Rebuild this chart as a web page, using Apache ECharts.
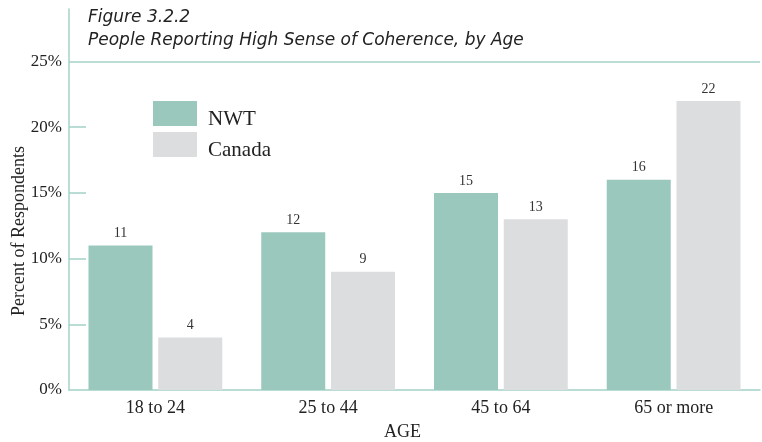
<!DOCTYPE html>
<html>
<head>
<meta charset="utf-8">
<script src="https://cdn.jsdelivr.net/npm/echarts@6/dist/echarts.min.js"></script>
<style>
  html, body { margin: 0; padding: 0; background: #fff; }
  #chart { width: 762px; height: 442px; }
</style>
</head>
<body>
<div id="chart"></div>
<script>
// Age groups and the share of respondents (%) with a high sense of coherence
const categories = ['18 to 24', '25 to 44', '45 to 64', '65 or more'];
const nwtValues = [11, 12, 15, 16];
const canadaValues = [4, 9, 13, 22];
const yTickValues = [0, 5, 10, 15, 20, 25];

const AXIS_COLOR = '#a3d2c7';
const TEXT_COLOR = '#222';
const SERIF = '"Liberation Serif", "Times New Roman", serif';

const chart = echarts.init(document.getElementById('chart'));

const valueLabel = {
  show: true,
  position: 'top',
  distance: 5,
  fontFamily: SERIF,
  fontSize: 14,
  color: '#333'
};

chart.setOption({
  animation: false,
  title: {
    text: 'Figure 3.2.2\nPeople Reporting High Sense of Coherence, by Age',
    left: 88,
    top: 6,
    padding: 0,
    textStyle: {
      fontFamily: '"DejaVu Sans", sans-serif',
      fontStyle: 'italic',
      fontWeight: 'normal',
      fontSize: 17,
      lineHeight: 23,
      color: TEXT_COLOR
    }
  },
  legend: {
    left: 153,
    top: 101,
    padding: 0,
    orient: 'vertical',
    icon: 'rect',
    itemWidth: 44,
    itemHeight: 25,
    itemGap: 2,
    formatter: '{t|{name}}',
    textStyle: {
      fontFamily: SERIF,
      fontSize: 21,
      color: TEXT_COLOR,
      rich: {
        t: { fontFamily: SERIF, fontSize: 21, color: TEXT_COLOR, padding: [12, 0, 0, 6] }
      }
    }
  },
  grid: { left: 69, right: 2, top: 9, bottom: 52, outerBoundsMode: 'none', containLabel: false },
  xAxis: {
    type: 'category',
    data: categories,
    name: 'AGE',
    nameLocation: 'middle',
    nameGap: 33,
    nameTextStyle: { fontFamily: SERIF, fontSize: 18, color: TEXT_COLOR, padding: [0, 24, 0, 0] },
    axisLine: { lineStyle: { color: AXIS_COLOR, width: 1.5 } },
    axisTick: { inside: true, length: 8, lineStyle: { color: AXIS_COLOR, width: 1.5 } },
    axisLabel: { fontFamily: SERIF, fontSize: 18, color: TEXT_COLOR, margin: 9 }
  },
  yAxis: {
    type: 'value',
    min: 0,
    max: 29,
    interval: 5,
    splitLine: { show: false },
    axisLine: { show: true, lineStyle: { color: AXIS_COLOR, width: 1.5 } },
    axisTick: {
      show: true,
      inside: true,
      length: 17,
      customValues: [5, 10, 15, 20],
      lineStyle: { color: AXIS_COLOR, width: 1.5 }
    },
    axisLabel: {
      customValues: yTickValues,
      formatter: '{value}%',
      fontFamily: SERIF,
      fontSize: 17,
      color: TEXT_COLOR,
      margin: 7
    }
  },
  graphic: [{
    type: 'text',
    left: 10,
    top: 146,
    rotation: Math.PI / 2,
    style: {
      text: 'Percent of Respondents',
      fontFamily: SERIF,
      fontSize: 18,
      fill: TEXT_COLOR
    }
  }],
  series: [
    {
      name: 'NWT',
      type: 'bar',
      data: nwtValues,
      barWidth: 64,
      barGap: '9%',
      itemStyle: { color: '#9bc8bd' },
      label: valueLabel,
      markLine: {
        silent: true,
        symbol: 'none',
        label: { show: false },
        lineStyle: { color: AXIS_COLOR, width: 1.5, type: 'solid' },
        data: [{ yAxis: 25 }]
      }
    },
    {
      name: 'Canada',
      type: 'bar',
      data: canadaValues,
      barWidth: 64,
      barGap: '9%',
      itemStyle: { color: '#dcdddf' },
      label: valueLabel
    }
  ]
});
</script>
</body>
</html>
